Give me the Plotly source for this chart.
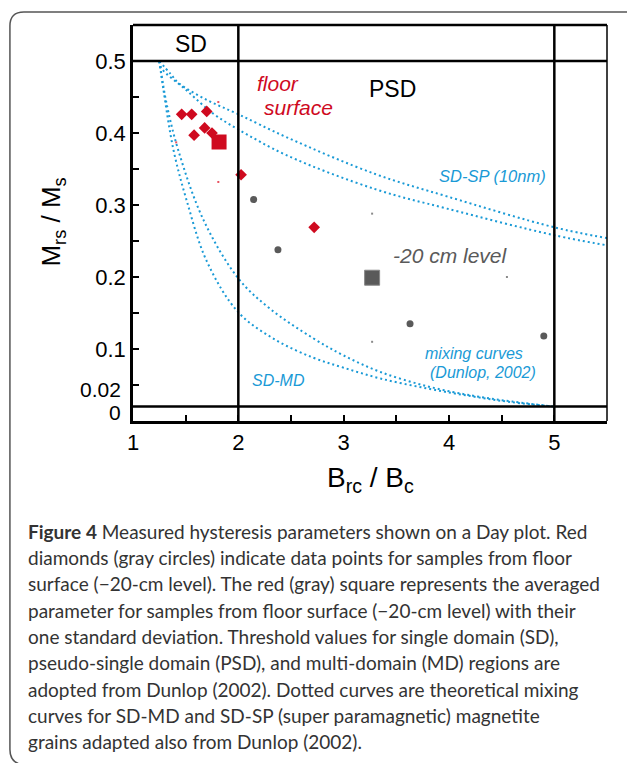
import plotly.graph_objects as go

# ---------------- data ----------------
floor_x = [1.462, 1.557, 1.70, 1.68, 1.75, 1.58, 2.026, 2.72]
floor_y = [0.426, 0.426, 0.430, 0.407, 0.400, 0.397, 0.342, 0.269]
floor_mean_x = [1.817]
floor_mean_y = [0.3875]
floor_sd_x = [1.81, 1.41, 1.81]
floor_sd_y = [0.443, 0.387, 0.332]

lvl_x = [2.145, 2.376, 3.63, 4.90]
lvl_y = [0.3075, 0.238, 0.135, 0.118]
lvl_mean_x = [3.27]
lvl_mean_y = [0.199]
lvl_sd_x = [3.27, 3.27, 4.55]
lvl_sd_y = [0.288, 0.110, 0.200]

sdmd_a_x = [1.25, 1.29, 1.385, 1.51, 1.70, 2.0, 2.35, 2.71, 3.0, 3.35, 3.8, 4.23, 4.6, 5.0]
sdmd_a_y = [0.50, 0.459, 0.376, 0.306, 0.222, 0.151, 0.113, 0.088, 0.074, 0.059, 0.045, 0.034, 0.026, 0.02]
sdmd_b_x = [1.25, 1.32, 1.43, 1.67, 2.0, 2.3, 2.71, 3.0, 3.35, 3.8, 4.23, 4.6, 5.0]
sdmd_b_y = [0.50, 0.44, 0.376, 0.279, 0.198, 0.156, 0.115, 0.091, 0.068, 0.048, 0.035, 0.027, 0.02]

sdsp_a_x = [1.25, 1.357, 1.436, 1.70, 2.0, 2.46, 3.3, 3.98, 5.0, 5.5]
sdsp_a_y = [0.50, 0.482, 0.469, 0.446, 0.426, 0.394, 0.343, 0.312, 0.269, 0.254]
sdsp_b_x = [1.25, 1.27, 1.51, 1.76, 2.0, 2.46, 3.3, 3.98, 5.0, 5.5]
sdsp_b_y = [0.50, 0.49, 0.459, 0.427, 0.405, 0.369, 0.322, 0.295, 0.258, 0.244]

x_ticks = [1, 2, 3, 4, 5]
x_ticktext = ["1", "2", "3", "4", "5"]
x_minor = [1.5, 2.5, 3.5, 4.5]
y_ticks = [0.1, 0.2, 0.3, 0.4, 0.5]
y_ticktext = ["0.1", "0.2", "0.3", "0.4", "0.5"]
y_minor = [0.05, 0.15, 0.25, 0.35, 0.45]

caption_lines = [
    "<b>Figure 4</b> Measured hysteresis parameters shown on a Day plot. Red",
    "diamonds (gray circles) indicate data points for samples from floor",
    "surface (\u221220-cm level). The red (gray) square represents the averaged",
    "parameter for samples from floor surface (\u221220-cm level) with their",
    "one standard deviation. Threshold values for single domain (SD),",
    "pseudo-single domain (PSD), and multi-domain (MD) regions are",
    "adopted from Dunlop (2002). Dotted curves are theoretical mixing",
    "curves for SD-MD and SD-SP (super paramagnetic) magnetite",
    "grains adapted also from Dunlop (2002).",
]

# ---------------- styling ----------------
W, H = 627, 763
L, R, T, B = 133, 606.7, 25, 420.7
RED = "#cf0a1f"
GRAY = "#5a5a5a"
BLUE = "#1a9ad6"
FONT = "Liberation Sans, Arial, sans-serif"


def pxx(x):
    return (x - L) / (R - L)


def pxy(y):
    return (B - y) / (B - T)


fig = go.Figure()

curve_line = dict(color=BLUE, width=2, dash="2px,3px")
for cx, cy in [(sdmd_a_x, sdmd_a_y), (sdmd_b_x, sdmd_b_y), (sdsp_a_x, sdsp_a_y), (sdsp_b_x, sdsp_b_y)]:
    fig.add_trace(go.Scatter(x=cx, y=cy, mode="lines", line=dict(curve_line, shape="spline", smoothing=1.0),
                             hoverinfo="skip", showlegend=False))

fig.add_trace(go.Scatter(x=floor_sd_x, y=floor_sd_y, mode="markers",
                         marker=dict(symbol="square", size=2, color="#e8505f"), showlegend=False))
fig.add_trace(go.Scatter(x=lvl_sd_x, y=lvl_sd_y, mode="markers",
                         marker=dict(symbol="square", size=2, color="#8a8a8a"), showlegend=False))
fig.add_trace(go.Scatter(x=floor_x, y=floor_y, mode="markers",
                         marker=dict(symbol="diamond", size=9, color=RED, line=dict(width=0)), showlegend=False))
fig.add_trace(go.Scatter(x=floor_mean_x, y=floor_mean_y, mode="markers",
                         marker=dict(symbol="square", size=15, color=RED, line=dict(width=0)), showlegend=False))
fig.add_trace(go.Scatter(x=lvl_x, y=lvl_y, mode="markers",
                         marker=dict(symbol="circle", size=7, color=GRAY, line=dict(width=0)), showlegend=False))
fig.add_trace(go.Scatter(x=lvl_mean_x, y=lvl_mean_y, mode="markers",
                         marker=dict(symbol="square", size=15, color=GRAY, line=dict(width=1, color="#888")),
                         showlegend=False))

shapes = []
# region boundaries
for xv in [2, 5]:
    shapes.append(dict(type="line", xref="x", yref="paper", x0=xv, x1=xv, y0=0, y1=1,
                       line=dict(color="black", width=2.5), layer="above"))
for yv in [0.5, 0.02]:
    shapes.append(dict(type="line", xref="paper", yref="y", x0=0, x1=1, y0=yv, y1=yv,
                       line=dict(color="black", width=2.5), layer="above"))
# top and right frame
shapes.append(dict(type="line", xref="paper", yref="paper", x0=0, x1=1, y0=1, y1=1,
                   line=dict(color="black", width=2.5), layer="above"))
shapes.append(dict(type="line", xref="paper", yref="paper", x0=1, x1=1, y0=0, y1=1,
                   line=dict(color="black", width=1.5), layer="above"))
# outer rounded figure frame
path = (f"M {pxx(660)},{pxy(12)} L {pxx(24)},{pxy(12)} Q {pxx(10)},{pxy(12)} {pxx(10)},{pxy(26)} "
        f"L {pxx(10)},{pxy(749)} Q {pxx(10)},{pxy(762)} {pxx(22)},{pxy(764)}")
shapes.append(dict(type="path", xref="paper", yref="paper", path=path,
                   line=dict(color="#555", width=1.5)))

ann = []


def txt(x, y, s, size, color, italic=False, xref="x", yref="y", **kw):
    d = dict(x=x, y=y, xref=xref, yref=yref, text=s, showarrow=False,
             font=dict(family=FONT, size=size, color=color, style="italic" if italic else "normal"))
    d.update(kw)
    ann.append(d)


txt(1.551, 0.523, "SD", 23, "black")
txt(3.465, 0.461, "PSD", 23, "black")
txt(2.377, 0.469, "floor", 21, RED, True)
txt(2.567, 0.436, "surface", 21, RED, True)
txt(4.01, 0.230, "-20 cm level", 21, GRAY, True)
txt(4.41, 0.340, "SD-SP (10nm)", 16.5, BLUE, True)
txt(4.24, 0.094, "mixing curves", 16, BLUE, True)
txt(4.32, 0.067, "(Dunlop, 2002)", 16, BLUE, True)
txt(2.377, 0.056, "SD-MD", 16, BLUE, True)

# y tick labels near the bottom (offset in the original)
txt(pxx(123), pxy(402.5), "0.02", 21, "black", xref="paper", yref="paper", xanchor="right")
txt(pxx(123), pxy(426), "0", 21, "black", xref="paper", yref="paper", xanchor="right")

# axis titles
txt(pxx(370), pxy(499), "B<sub>rc</sub> / B<sub>c</sub>", 28, "black", xref="paper", yref="paper")
txt(pxx(34), pxy(222), "M<sub>rs</sub> / M<sub>s</sub>", 26, "black", xref="paper", yref="paper", textangle=-90)

# caption
cap_y = [531, 557, 583, 610, 636, 662, 689, 715, 741]
for line, yc in zip(caption_lines, cap_y):
    ann.append(dict(x=pxx(26), y=pxy(yc), xref="paper", yref="paper", text=line, showarrow=False,
                    xanchor="left", yanchor="middle",
                    font=dict(family="Lato, Open Sans, sans-serif", size=19, color="#333")))

axis_common = dict(ticks="inside", ticklen=6, tickwidth=1.5, tickcolor="black", showline=True,
                   linewidth=2.5, linecolor="black", showgrid=False, zeroline=False,
                   tickfont=dict(family=FONT, size=22, color="black"))

fig.update_layout(
    width=W, height=H,
    margin=dict(l=L, r=W - R, t=T, b=H - B),
    paper_bgcolor="white", plot_bgcolor="white",
    shapes=shapes, annotations=ann,
    xaxis=dict(range=[1, 5.5], tickvals=x_ticks, ticktext=x_ticktext,
               minor=dict(tickvals=x_minor, ticks="inside", ticklen=6, tickwidth=1.5, tickcolor="black",
                          showgrid=False),
               **axis_common),
    yaxis=dict(range=[0, 0.55], tickvals=y_ticks, ticktext=y_ticktext, ticklabelstandoff=0,
               minor=dict(tickvals=y_minor, ticks="inside", ticklen=6, tickwidth=1.5, tickcolor="black",
                          showgrid=False),
               **axis_common),
    showlegend=False,
)

fig.write_html("out.html")
